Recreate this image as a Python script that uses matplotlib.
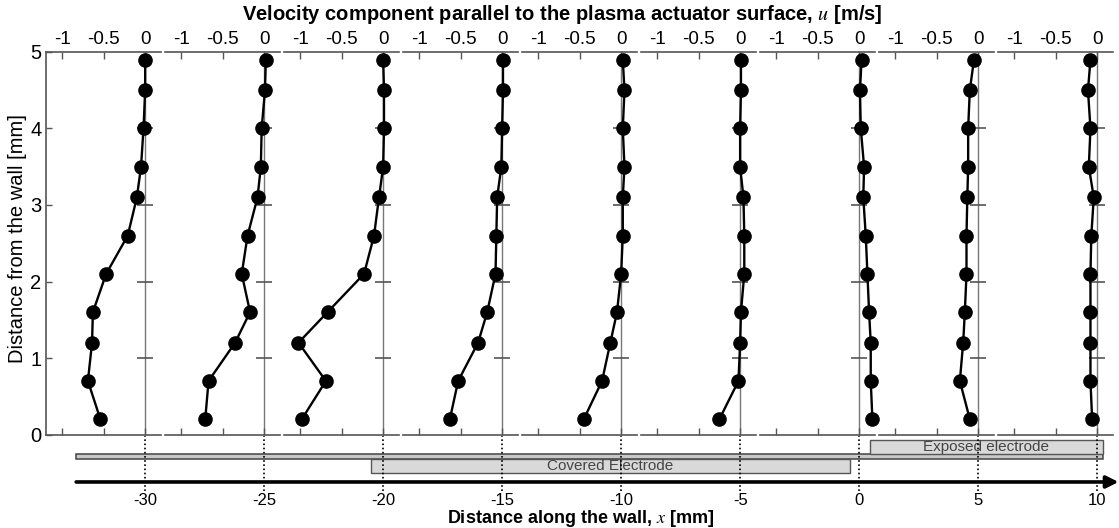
import matplotlib

matplotlib.use("Agg")
import matplotlib.pyplot as plt  # noqa: E402
from matplotlib.patches import Rectangle  # noqa: E402

plt.rcParams["font.family"] = ["Liberation Sans", "DejaVu Sans"]
plt.rcParams["axes.unicode_minus"] = False
plt.rcParams["mathtext.fontset"] = "stix"

# --- data --------------------------------------------------------------
y_levels = [0.2, 0.7, 1.2, 1.6, 2.1, 2.6, 3.1, 3.5, 4.0, 4.5, 4.9]
stations = [-30, -25, -20, -15, -10, -5, 0, 5, 10]

u_m30 = [-0.54, -0.69, -0.64, -0.63, -0.47, -0.21, -0.10, -0.05, -0.02, 0.00, 0.00]
u_m25 = [-0.71, -0.67, -0.35, -0.17, -0.27, -0.20, -0.08, -0.04, -0.03, 0.01, 0.02]
u_m20 = [-0.98, -0.69, -1.02, -0.67, -0.23, -0.11, -0.05, 0.00, 0.01, 0.01, 0.00]
u_m15 = [-0.63, -0.53, -0.29, -0.18, -0.08, -0.07, -0.06, -0.01, 0.00, 0.01, 0.01]
u_m10 = [-0.45, -0.23, -0.13, -0.05, 0.00, 0.02, 0.02, 0.04, 0.02, 0.04, 0.02]
u_m5 = [-0.25, -0.02, 0.00, 0.01, 0.05, 0.05, 0.04, 0.00, 0.00, 0.01, 0.01]
u_0 = [0.16, 0.14, 0.14, 0.12, 0.10, 0.08, 0.05, 0.06, 0.02, 0.01, 0.03]
u_5 = [-0.10, -0.22, -0.18, -0.16, -0.14, -0.14, -0.13, -0.12, -0.12, -0.10, -0.05]
u_10 = [-0.06, -0.08, -0.08, -0.08, -0.08, -0.07, -0.04, -0.10, -0.08, -0.11, -0.08]
profiles = [u_m30, u_m25, u_m20, u_m15, u_m10, u_m5, u_0, u_5, u_10]

u_ticks = [-1, -0.5, 0]
u_tick_labels = ["-1", "-0.5", "0"]
y_ticks = [0, 1, 2, 3, 4, 5]

wall_extent = [-32.9, 10.25]
covered_electrode = [-20.5, -0.4]
exposed_electrode = [0.45, 10.25]

# --- layout ------------------------------------------------------------
W, H = 1119, 528
PX_PER_U = 83.0
U_LIM = (-1.2, 0.19)
SPINE = "#555555"


def px_box(left, top, width, height):
    return [left / W, 1 - (top + height) / H, width / W, height / H]


fig = plt.figure(figsize=(W / 100, H / 100), dpi=100)

# wall / electrode strip with the streamwise axis
ax_wall = fig.add_axes(px_box(0, 436, W, 56))
ax_wall.set_xlim(-36.1, 10.92)
ax_wall.set_ylim(0, 1)
for s in ax_wall.spines.values():
    s.set_visible(False)
ax_wall.set_yticks([])
ax_wall.set_xticks(stations)
ax_wall.set_xticklabels([str(s) for s in stations])
ax_wall.tick_params(axis="x", length=0, pad=1, labelsize=12)

ax_wall.add_patch(Rectangle((wall_extent[0], 0.589), wall_extent[1] - wall_extent[0], 0.09,
                            facecolor="#c8c8c8", edgecolor="#444444", lw=1.1, zorder=2))
ax_wall.add_patch(Rectangle((covered_electrode[0], 0.339), covered_electrode[1] - covered_electrode[0], 0.25,
                            facecolor="#d9d9d9", edgecolor=SPINE, lw=1.0, zorder=2))
ax_wall.add_patch(Rectangle((exposed_electrode[0], 0.679), exposed_electrode[1] - exposed_electrode[0], 0.25,
                            facecolor="#d9d9d9", edgecolor=SPINE, lw=1.0, zorder=2))
ax_wall.text(sum(covered_electrode) / 2, 0.46, "Covered Electrode", ha="center", va="center",
             fontsize=11, color="#444444", zorder=3)
ax_wall.text(sum(exposed_electrode) / 2, 0.80, "Exposed electrode", ha="center", va="center",
             fontsize=11, color="#444444", zorder=3)
ax_wall.vlines(stations, 0.02, 1.0, colors="black", linestyles=(0, (1, 1.5)), lw=1.2, zorder=4)
ax_wall.annotate("", xy=(10.9, 0.179), xytext=(wall_extent[0], 0.179), annotation_clip=False,
                 arrowprops=dict(arrowstyle="-|>", lw=2.6, color="black", mutation_scale=18,
                                 shrinkA=0, shrinkB=0))

# one velocity-profile panel per station
for i, (x0, u) in enumerate(zip(stations, profiles)):
    zero_px = ax_wall.transData.transform((x0, 0))[0]
    ax = fig.add_axes(px_box(zero_px + U_LIM[0] * PX_PER_U, 52,
                             (U_LIM[1] - U_LIM[0]) * PX_PER_U, 382.5))
    ax.set_xlim(*U_LIM)
    ax.set_ylim(0, 5)
    ax.patch.set_alpha(0)
    ax.spines["right"].set_visible(False)
    ax.spines["left"].set_visible(i == 0)
    for side in ("top", "bottom", "left"):
        ax.spines[side].set_color(SPINE)
        ax.spines[side].set_linewidth(1.2)

    ax.set_xticks(u_ticks)
    ax.set_xticklabels(u_tick_labels)
    ax.tick_params(axis="x", top=True, labeltop=True, bottom=True, labelbottom=False,
                   direction="in", length=5, width=1.0, color=SPINE, labelsize=13.5, pad=3)
    if i == 0:
        ax.set_yticks(y_ticks)
        ax.tick_params(axis="y", direction="in", length=4, width=1.0, color=SPINE,
                       labelsize=14.5, pad=3)
    else:
        ax.set_yticks([])

    ax.axvline(0, color="#777777", lw=1.0, zorder=1)
    ax.plot([0] * 4, y_ticks[1:5], ls="none", marker="_", ms=11, mew=1.2,
            color=SPINE, zorder=2, clip_on=False)
    ax.plot(u, y_levels, "-o", color="black", lw=1.7, ms=9.5, zorder=3, clip_on=False)

fig.text(562 / W, 1 - 15 / H,
         "Velocity component parallel to the plasma actuator surface, $u$ [m/s]",
         ha="center", va="center", fontsize=14.5, fontweight="bold")
fig.text(581 / W, 1 - 523 / H, "Distance along the wall, $x$ [mm]",
         ha="center", va="baseline", fontsize=13, fontweight="bold")
fig.text(18 / W, 1 - 239 / H, "Distance from the wall [mm]", rotation=90,
         ha="center", va="center", fontsize=14.5)

fig.savefig("out.png", dpi=100)
